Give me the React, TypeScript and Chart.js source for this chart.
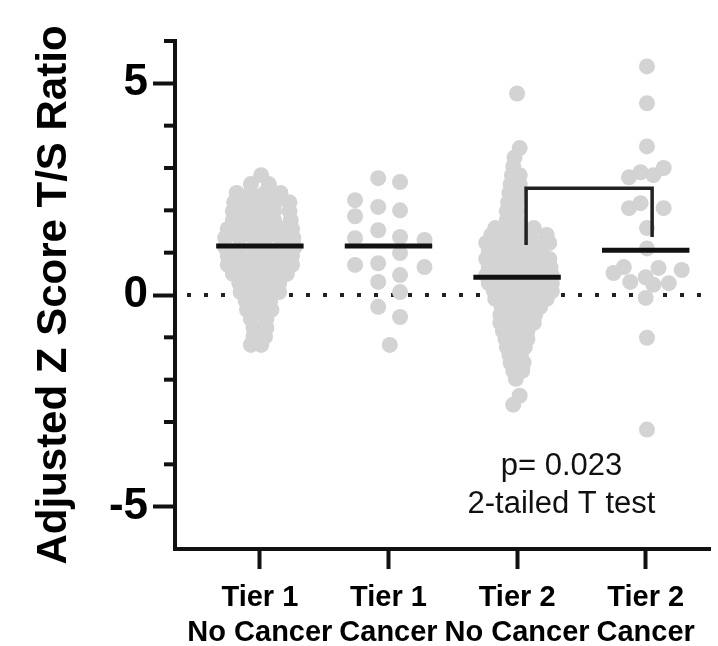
import React, { useEffect, useRef } from 'react';
import { Chart, registerables } from 'chart.js';

Chart.register(...registerables);

// ---------- data ----------
const categories: string[][] = [
  ['Tier 1', 'No Cancer'],
  ['Tier 1', 'Cancer'],
  ['Tier 2', 'No Cancer'],
  ['Tier 2', 'Cancer'],
];
const categoryPositions = [1, 2, 3, 4];

// Tier 1 No Cancer: rows of [value, horizontal jitter offsets]
const tier1NoCancerRows: [number, number[]][] = [
  [2.83, [0.01]],
  [2.62, [-0.07, 0.07]],
  [2.41, [-0.18, -0.07, 0.04, 0.16]],
  [2.19, [-0.2, -0.09, 0.02, 0.12, 0.23]],
  [1.98, [-0.21, -0.1, 0.01, 0.11, 0.23]],
  [1.77, [-0.21, -0.11, 0, 0.11, 0.24]],
  [1.56, [-0.25, -0.14, -0.03, 0.08, 0.18, 0.25]],
  [1.35, [-0.27, -0.16, -0.05, 0.05, 0.16, 0.26]],
  [1.13, [-0.27, -0.16, -0.05, 0.05, 0.16, 0.27]],
  [0.92, [-0.25, -0.15, -0.04, 0.07, 0.18, 0.25]],
  [0.71, [-0.25, -0.14, -0.03, 0.08, 0.18, 0.25]],
  [0.5, [-0.21, -0.1, 0.01, 0.11, 0.21]],
  [0.28, [-0.16, -0.05, 0.05, 0.15]],
  [0.07, [-0.15, -0.04, 0.07, 0.15]],
  [-0.14, [-0.11, -0.02, 0.08]],
  [-0.35, [-0.1, 0.01, 0.09]],
  [-0.57, [-0.07, 0.05]],
  [-0.78, [-0.05, 0.05]],
  [-0.99, [-0.05, 0.04]],
  [-1.18, [-0.07, 0.01]],
];

// Tier 1 Cancer
const tier1CancerValues = [2.76, 2.67, 2.24, 1.86, 2.08, 2.0, 1.53, 1.37, 1.34, 1.3, 0.99, 0.71, 0.75, 0.66, 0.31, 0.47, 0.07, -0.28, -0.52, -1.18];
const tier1CancerOffsets = [-0.08, 0.09, -0.26, -0.26, -0.08, 0.09, -0.08, 0.09, -0.26, 0.28, 0.09, -0.26, -0.08, 0.28, -0.08, 0.09, 0.09, -0.08, 0.09, 0.01];

// Tier 2 No Cancer: rows of [value, horizontal jitter offsets]
const tier2NoCancerRows: [number, number[]][] = [
  [4.76, [0]],
  [3.47, [0.02]],
  [3.25, [-0.02]],
  [3.04, [-0.03]],
  [2.83, [-0.04, 0.02]],
  [2.62, [-0.05, 0.02]],
  [2.41, [-0.06, 0.01]],
  [2.19, [-0.07, 0]],
  [1.98, [-0.08, 0]],
  [1.77, [-0.08, 0]],
  [1.58, [-0.17, -0.07, 0.03, 0.13]],
  [1.42, [-0.2, -0.1, 0, 0.09, 0.23]],
  [1.23, [-0.24, -0.14, -0.04, 0.06, 0.16, 0.25]],
  [1.04, [-0.22, -0.12, -0.02, 0.08, 0.18]],
  [0.85, [-0.24, -0.14, -0.04, 0.06, 0.16, 0.25]],
  [0.66, [-0.22, -0.12, -0.02, 0.08, 0.18, 0.26]],
  [0.47, [-0.24, -0.14, -0.04, 0.06, 0.16, 0.27]],
  [0.28, [-0.22, -0.12, -0.02, 0.08, 0.18, 0.27]],
  [0.09, [-0.18, -0.08, 0.02, 0.12, 0.22, 0.27]],
  [-0.09, [-0.17, -0.07, 0.03, 0.13, 0.23]],
  [-0.28, [-0.12, -0.02, 0.08, 0.18]],
  [-0.47, [-0.13, -0.03, 0.07, 0.14]],
  [-0.66, [-0.13, -0.03, 0.07, 0.13]],
  [-0.85, [-0.11, -0.02, 0.08]],
  [-1.04, [-0.09, 0, 0.08]],
  [-1.23, [-0.08, 0, 0.06]],
  [-1.42, [-0.06, 0.03]],
  [-1.6, [-0.05, 0.05]],
  [-1.79, [-0.03, 0.04]],
  [-1.98, [-0.01]],
  [-2.38, [0.02]],
  [-2.59, [-0.03]],
];

// Tier 2 Cancer
const tier2CancerValues = [5.4, 4.53, 3.51, 3.0, 2.9, 2.78, 2.83, 2.05, 2.05, 2.17, 1.58, 1.1, 0.66, 0.52, 0.64, 0.59, 0.42, 0.31, 0.28, 0.24, -0.07, -1.01, -3.18];
const tier2CancerOffsets = [0.01, 0.01, 0.01, 0.14, -0.04, -0.13, 0.06, -0.13, 0.14, -0.04, 0.01, 0.01, -0.17, -0.25, 0.1, 0.28, 0.0, -0.12, 0.18, 0.06, 0.0, 0.01, 0.01];

const groupMeans = [1.16, 1.16, 0.42, 1.06];
const meanHalfWidth = 0.34;

const bracketX = [3.07, 4.05];
const bracketY = [1.18, 2.52, 1.37];

const pValueLines = ['p= 0.023', '2-tailed T test'];
const pValueX = 3.345;
const pValueY = [-4.06, -4.95];

const yTitle = 'Adjusted Z Score T/S Ratio';
const yMajorTicks = [-5, 0, 5];
const yMinorTicks = [-4, -3, -2, -1, 1, 2, 3, 4, 6];
const yRange = [-6, 6];
const xRange = [0.34, 4.5];

// ---------- helpers ----------
const FONT = "'Liberation Sans', Arial, Helvetica, sans-serif";
const POINT_COLOR = 'rgb(211,211,211)';
const INK = '#111';

function fromRows(rows: [number, number[]][], center: number) {
  const pts: { x: number; y: number }[] = [];
  rows.forEach(([v, offs]) => offs.forEach((o) => pts.push({ x: center + o, y: v })));
  return pts;
}
function fromArrays(values: number[], offsets: number[], center: number) {
  return values.map((v, i) => ({ x: center + offsets[i], y: v }));
}

export default function App() {
  const ref = useRef<HTMLCanvasElement | null>(null);

  useEffect(() => {
    if (!ref.current) return;

    const groups = [
      fromRows(tier1NoCancerRows, categoryPositions[0]),
      fromArrays(tier1CancerValues, tier1CancerOffsets, categoryPositions[1]),
      fromRows(tier2NoCancerRows, categoryPositions[2]),
      fromArrays(tier2CancerValues, tier2CancerOffsets, categoryPositions[3]),
    ];

    const pointSets = groups.map((g) => ({
      data: g,
      pointRadius: 8,
      pointHoverRadius: 8,
      pointBackgroundColor: POINT_COLOR,
      pointBorderWidth: 0,
      borderWidth: 0,
      showLine: false,
      order: 5,
      clip: false as any,
    }));

    const meanSets = groupMeans.map((m, i) => ({
      data: [
        { x: categoryPositions[i] - meanHalfWidth, y: m },
        { x: categoryPositions[i] + meanHalfWidth, y: m },
      ],
      showLine: true,
      borderColor: INK,
      borderWidth: 5,
      borderCapStyle: 'butt' as const,
      pointRadius: 0,
      order: 2,
    }));

    const zeroLine = {
      data: [
        { x: xRange[0], y: 0 },
        { x: xRange[1], y: 0 },
      ],
      showLine: true,
      borderColor: '#222',
      borderWidth: 4,
      borderDash: [4, 13],
      borderDashOffset: 5,
      borderCapStyle: 'butt' as const,
      pointRadius: 0,
      order: 10,
    };

    const bracket = {
      data: [
        { x: bracketX[0], y: bracketY[0] },
        { x: bracketX[0], y: bracketY[1] },
        { x: bracketX[1], y: bracketY[1] },
        { x: bracketX[1], y: bracketY[2] },
      ],
      showLine: true,
      borderColor: '#222',
      borderWidth: 3.5,
      borderJoinStyle: 'miter' as const,
      borderCapStyle: 'butt' as const,
      pointRadius: 0,
      order: 1,
    };

    const extrasPlugin = {
      id: 'extras',
      afterDraw(chart: any) {
        const { ctx, chartArea, scales } = chart;
        ctx.save();
        // minor y ticks
        ctx.strokeStyle = INK;
        ctx.lineWidth = 4;
        yMinorTicks.forEach((v) => {
          const y = scales.y.getPixelForValue(v);
          ctx.beginPath();
          ctx.moveTo(chartArea.left - 11, y);
          ctx.lineTo(chartArea.left, y);
          ctx.stroke();
        });
        // p-value annotation
        ctx.fillStyle = '#111';
        ctx.font = `31px ${FONT}`;
        ctx.textAlign = 'center';
        ctx.textBaseline = 'middle';
        pValueLines.forEach((t, i) => {
          ctx.fillText(t, scales.x.getPixelForValue(pValueX), scales.y.getPixelForValue(pValueY[i]));
        });
        ctx.restore();
      },
    };

    const chart = new Chart(ref.current, {
      type: 'scatter',
      data: { datasets: [zeroLine, ...pointSets, ...meanSets, bracket] as any },
      options: {
        animation: false,
        responsive: false,
        maintainAspectRatio: false,
        layout: { padding: { top: 41, left: 0, right: 0, bottom: 0 } },
        plugins: { legend: { display: false }, tooltip: { enabled: false } },
        scales: {
          x: {
            type: 'linear',
            min: xRange[0],
            max: xRange[1],
            afterFit: (scale: any) => {
              scale.height = 97;
            },
            afterBuildTicks: (scale: any) => {
              scale.ticks = categoryPositions.map((v) => ({ value: v }));
            },
            border: { display: true, color: INK, width: 4 },
            grid: {
              display: true,
              drawOnChartArea: false,
              drawTicks: true,
              tickLength: 20,
              tickWidth: 4,
              tickColor: INK,
            },
            ticks: {
              autoSkip: false,
              maxRotation: 0,
              padding: 11,
              color: '#000',
              font: { family: FONT, size: 29, weight: 'bold', lineHeight: 1.22 },
              callback: (value: any) => {
                const i = categoryPositions.indexOf(Number(value));
                return i >= 0 ? categories[i] : '';
              },
            },
          },
          y: {
            type: 'linear',
            min: yRange[0],
            max: yRange[1],
            afterFit: (scale: any) => {
              scale.width = 175;
            },
            afterBuildTicks: (scale: any) => {
              scale.ticks = yMajorTicks.map((v) => ({ value: v }));
            },
            border: { display: true, color: INK, width: 4 },
            grid: {
              display: true,
              drawOnChartArea: false,
              drawTicks: true,
              tickLength: 22,
              tickWidth: 4,
              tickColor: INK,
            },
            ticks: {
              padding: 5,
              color: '#000',
              font: { family: FONT, size: 44, weight: 'bold' },
              callback: (value: any) => String(value),
            },
            title: {
              display: true,
              text: yTitle,
              color: '#000',
              font: { family: FONT, size: 42, weight: 'bold', lineHeight: 1.2 },
              padding: { top: 29, bottom: 0 },
            },
          },
        },
      },
      plugins: [extrasPlugin],
    });

    return () => chart.destroy();
  }, []);

  return (
    <div style={{ position: 'fixed', left: 0, top: 0, width: 718, height: 646, background: '#fff' }}>
      <canvas ref={ref} width={718} height={646} style={{ display: 'block' }} />
    </div>
  );
}
